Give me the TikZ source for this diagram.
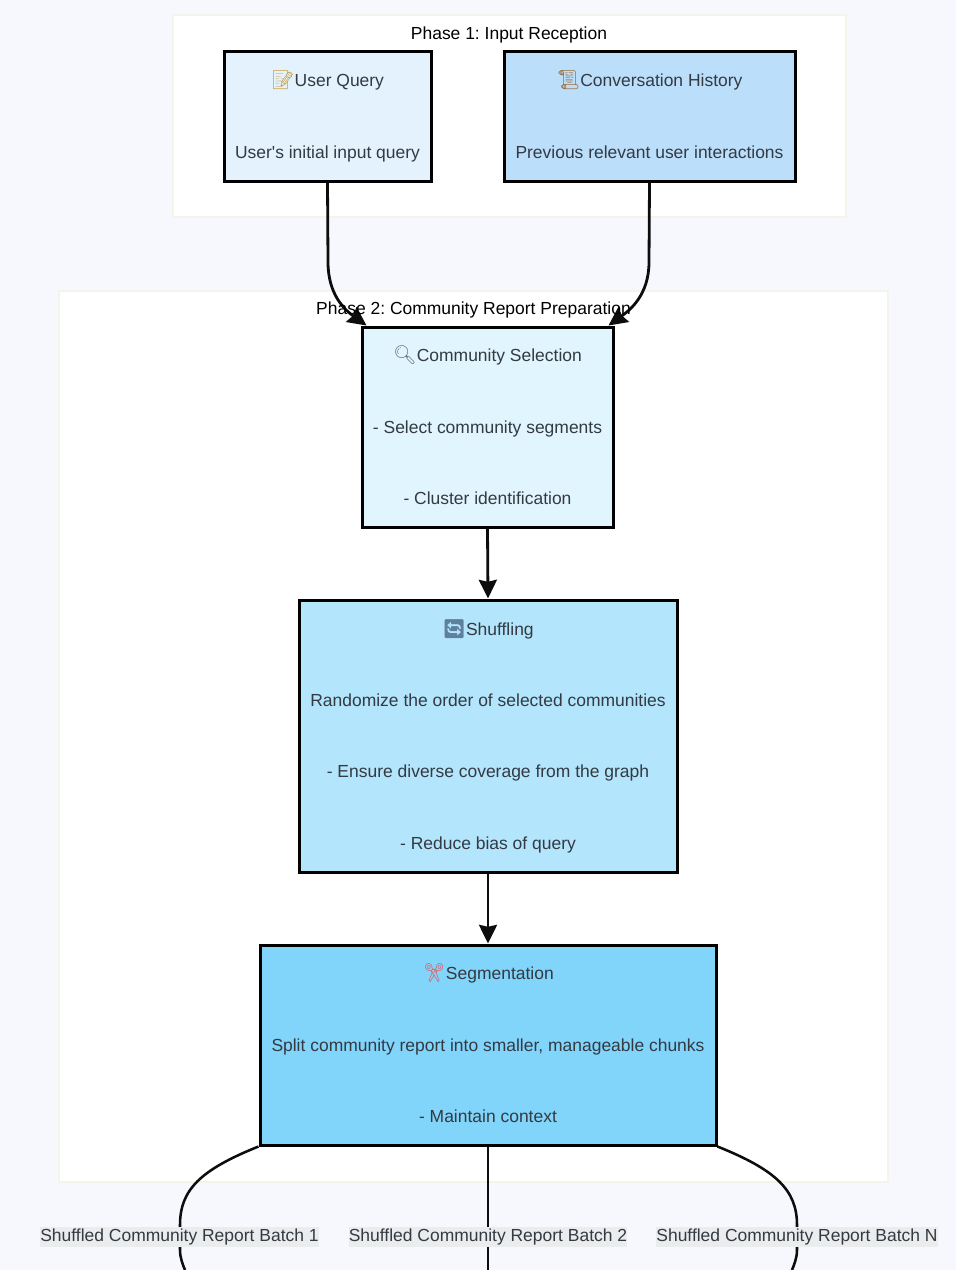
\documentclass[tikz,border=0pt]{standalone}
\usepackage{fontspec}
\setmainfont{Liberation Sans}[Ligatures=TeXOff]
\newfontfamily\emojifont{Noto Emoji}
\usetikzlibrary{arrows.meta}
\definecolor{pagebg}{HTML}{F6F8FD}
\definecolor{phaseline}{HTML}{F4F5EA}
\definecolor{inktext}{HTML}{333A42}
\definecolor{labelbg}{HTML}{EBECEE}
\definecolor{userfill}{HTML}{E3F2FD}
\definecolor{convfill}{HTML}{BBDEFB}
\definecolor{cselfill}{HTML}{E1F5FE}
\definecolor{shuffill}{HTML}{B3E5FC}
\definecolor{segfill}{HTML}{81D4FA}
\definecolor{memomark}{HTML}{C9A24A}
\definecolor{scrollmark}{HTML}{9C7248}
\definecolor{lensmark}{HTML}{6E7780}
\definecolor{cyclemark}{HTML}{5E7F9E}
\definecolor{scissormark}{HTML}{D9646A}
\newcommand{\emojimark}[2]{\rule{0pt}{12pt}\smash{\fontsize{14pt}{16pt}\emojifont\color{#1}#2}}
\frenchspacing
\tikzset{%
        phase/.style = {rectangle, draw = phaseline, fill = white, line width = 0.8pt},
        phasetitle/.style = {inner sep = 0pt, font = \fontsize{13.1pt}{16pt}\selectfont, text = black},
        stage/.style = {rectangle, draw = black, line width = 2.25pt, align = center, inner sep = 0pt, text depth = 3pt, text = inktext, font = \fontsize{13.1pt}{53.5pt}\selectfont},
        batchlabel/.style = {rectangle, fill = labelbg, inner xsep = 0pt, inner ysep = 0pt, minimum height = 15pt, text = inktext, font = \fontsize{13.1pt}{16pt}\selectfont},
        flowarrow/.style = {line width = 2.1pt, draw = black!95, -{Stealth[length = 14pt, width = 13.5pt, inset = 1.5pt]}},
        flowline/.style = {line width = 1.9pt, draw = black!95}
    }

\begin{document}
\begin{tikzpicture}[x = 0.75pt, y = -0.75pt]
	\fill[pagebg] (0,0) rectangle (956,1270);
	\useasboundingbox (0,0) rectangle (956,1270);

	\node[phase, minimum width = 504.75pt, minimum height = 151.5pt]	(phaseone)	at (509.5,116)	{};
	\node[phase, minimum width = 621.75pt, minimum height = 668.25pt]	(phasetwo)	at (473.5,736.5)	{};

	\node[stage, fill = userfill, minimum width = 155.25pt, minimum height = 96.75pt]	(userq)	at (327.5,116.5)	{\emojimark{memomark}{📝}User Query\\User's initial input query};
	\node[stage, fill = convfill, minimum width = 218.25pt, minimum height = 96.75pt]	(history)	at (649.5,116.5)	{\emojimark{scrollmark}{📜}Conversation History\\Previous relevant user interactions};
	\node[stage, fill = cselfill, minimum width = 188.25pt, minimum height = 150pt]	(csel)	at (487.5,427)	{\emojimark{lensmark}{🔍}Community Selection\\- Select community segments\\- Cluster identification};
	\node[stage, fill = shuffill, minimum width = 283.5pt, minimum height = 204pt]	(shuffle)	at (488,736)	{\emojimark{cyclemark}{🔄}Shuffling\\Randomize the order of selected communities\\- Ensure diverse coverage from the graph\\- Reduce bias of query};
	\node[stage, fill = segfill, minimum width = 342pt, minimum height = 150pt]	(segment)	at (488,1045)	{\emojimark{scissormark}{✂}Segmentation\\Split community report into smaller, manageable chunks\\- Maintain context};

	\coordinate	(endone)	at (185,1270);
	\coordinate	(endtwo)	at (488,1270);
	\coordinate	(endthree)	at (792,1270);

	\draw[flowarrow] (userq.south) -- (328,262) .. controls (328,295) and (345,310) .. (csel.140);
	\draw[flowarrow] (history.south) -- (649,262) .. controls (649,295) and (630,310) .. (csel.40);
	\draw[flowarrow] (csel.south) -- (shuffle.north);
	\draw[flowarrow] (shuffle.south) -- (segment.north);

	\draw[flowline] (segment.south west) .. controls (200,1170) and (180,1190) .. (180,1225) -- (180,1250) .. controls (180,1258) and (183,1265) .. (endone);
	\draw[flowline] (segment.south) -- (endtwo);
	\draw[flowline] (segment.south east) .. controls (776,1170) and (797,1190) .. (797,1225) -- (797,1250) .. controls (797,1258) and (794,1265) .. (endthree);

	\node[phasetitle]	(phaseonetitle)	at (509,35)	{Phase 1: Input Reception};
	\node[phasetitle]	(phasetwotitle)	at (473.5,310)	{Phase 2: Community Report Preparation};

	\node[batchlabel]	(batchone)	at (179.5,1237)	{Shuffled Community Report Batch 1};
	\node[batchlabel]	(batchtwo)	at (488,1237)	{Shuffled Community Report Batch 2};
	\node[batchlabel]	(batchn)	at (797,1237)	{Shuffled Community Report Batch N};
\end{tikzpicture}
\end{document}
